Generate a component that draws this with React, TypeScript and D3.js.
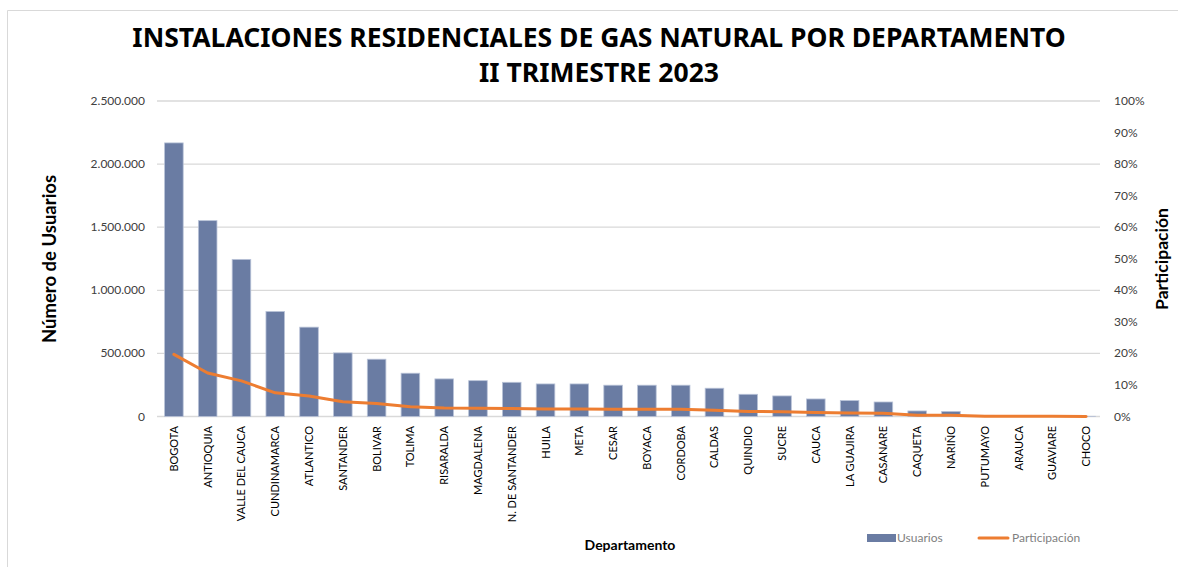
import React, { useRef, useEffect } from "react";
import * as d3 from "d3";

const departamentos = [
  "BOGOTA", "ANTIOQUIA", "VALLE DEL CAUCA", "CUNDINAMARCA", "ATLANTICO",
  "SANTANDER", "BOLIVAR", "TOLIMA", "RISARALDA", "MAGDALENA",
  "N. DE SANTANDER", "HUILA", "META", "CESAR", "BOYACA",
  "CORDOBA", "CALDAS", "QUINDIO", "SUCRE", "CAUCA",
  "LA GUAJIRA", "CASANARE", "CAQUETA", "NARIÑO", "PUTUMAYO",
  "ARAUCA", "GUAVIARE", "CHOCO",
];

const usuarios = [
  2168000, 1552000, 1245000, 832000, 708000,
  504000, 454000, 343000, 298000, 284000,
  271000, 258000, 258000, 248000, 248000,
  248000, 224000, 176000, 163000, 139000,
  126000, 115000, 44000, 40000, 9000,
  7000, 5000, 1500,
];

const participacion = [
  0.197, 0.138, 0.113, 0.075, 0.065,
  0.047, 0.041, 0.031, 0.027, 0.026,
  0.025, 0.024, 0.024, 0.023, 0.023,
  0.023, 0.020, 0.016, 0.015, 0.013,
  0.011, 0.010, 0.004, 0.004, 0.001,
  0.001, 0.001, 0.0,
];

const leftTicks = [0, 500000, 1000000, 1500000, 2000000, 2500000];
const rightTicks = [0, 0.1, 0.2, 0.3, 0.4, 0.5, 0.6, 0.7, 0.8, 0.9, 1];

const W = 1178;
const H = 567;
const labelFont = "Lato, 'Open Sans', sans-serif";

const App = () => {
  const ref = useRef<SVGSVGElement>(null);

  useEffect(() => {
    const svg = d3.select(ref.current);
    svg.selectAll("*").remove();

    const m = { left: 157, right: 1103, top: 101, bottom: 416.5 };

    const x = d3.scaleBand<string>()
      .domain(departamentos)
      .range([m.left, m.right])
      .paddingInner(0.45)
      .paddingOuter(0.225);
    const yL = d3.scaleLinear().domain([0, 2500000]).range([m.bottom, m.top]);
    const yR = d3.scaleLinear().domain([0, 1]).range([m.bottom, m.top]);

    svg.append("rect").attr("width", W).attr("height", H).attr("fill", "#fff");
    // chart frame
    svg.append("path")
      .attr("d", `M7.5,${H + 5} V10.5 H${W + 5}`)
      .attr("fill", "none")
      .attr("stroke", "#d9d9d9")
      .attr("stroke-width", 1);

    // title
    const title = svg.append("text")
      .attr("text-anchor", "middle")
      .attr("font-family", "'Noto Sans', 'Open Sans', sans-serif")
      .attr("font-weight", 700)
      .attr("font-size", 26.5)
      .attr("fill", "#000");
    title.append("tspan").attr("x", 599).attr("y", 47).text("INSTALACIONES RESIDENCIALES DE GAS NATURAL POR DEPARTAMENTO");
    title.append("tspan").attr("x", 599).attr("y", 82).text("II TRIMESTRE 2023");

    // gridlines
    svg.append("g")
      .selectAll("line")
      .data(leftTicks)
      .join("line")
      .attr("x1", m.left)
      .attr("x2", m.right - 3)
      .attr("y1", (d) => yL(d))
      .attr("y2", (d) => yL(d))
      .attr("stroke", "#d9d9d9")
      .attr("stroke-width", 1.3);

    // left axis labels
    const fmt = (v: number) => (v === 0 ? "0" : d3.format(",")(v).replace(/,/g, "."));
    svg.append("g")
      .selectAll("text")
      .data(leftTicks)
      .join("text")
      .attr("x", 145)
      .attr("y", (d) => yL(d) + 4)
      .attr("text-anchor", "end")
      .attr("font-family", labelFont)
      .attr("font-size", 12)
      .attr("fill", "#404040")
      .text(fmt);

    // right axis labels
    svg.append("g")
      .selectAll("text")
      .data(rightTicks)
      .join("text")
      .attr("x", 1114)
      .attr("y", (d) => yR(d) + 4)
      .attr("text-anchor", "start")
      .attr("font-family", labelFont)
      .attr("font-size", 12)
      .attr("fill", "#404040")
      .text((d) => `${Math.round(d * 100)}%`);

    // bars
    svg.append("g")
      .selectAll("rect")
      .data(usuarios)
      .join("rect")
      .attr("x", (_, i) => x(departamentos[i]) as number)
      .attr("width", x.bandwidth())
      .attr("y", (d) => yL(d))
      .attr("height", (d) => m.bottom - yL(d))
      .attr("fill", "#6a7ca3")
      .attr("stroke", "#b9c3d8")
      .attr("stroke-width", 0.8);

    // line
    const line = d3.line<number>()
      .x((_, i) => (x(departamentos[i]) as number) + x.bandwidth() / 2)
      .y((d) => yR(d));
    svg.append("path")
      .datum(participacion)
      .attr("d", line)
      .attr("fill", "none")
      .attr("stroke", "#ed7d31")
      .attr("stroke-width", 3)
      .attr("stroke-linejoin", "round")
      .attr("stroke-linecap", "round");

    // x labels
    svg.append("g")
      .selectAll("text")
      .data(departamentos)
      .join("text")
      .attr("transform", (d) => `translate(${(x(d) as number) + x.bandwidth() / 2 + 4},426) rotate(-90)`)
      .attr("text-anchor", "end")
      .attr("font-family", labelFont)
      .attr("font-size", 11)
      .attr("fill", "#000")
      .text((d) => d);

    // axis titles
    svg.append("text")
      .attr("x", 630)
      .attr("y", 550)
      .attr("text-anchor", "middle")
      .attr("font-family", labelFont)
      .attr("font-weight", 700)
      .attr("font-size", 14)
      .text("Departamento");
    svg.append("text")
      .attr("transform", `translate(56,259) rotate(-90)`)
      .attr("text-anchor", "middle")
      .attr("font-family", labelFont)
      .attr("font-weight", 700)
      .attr("font-size", 18.5)
      .text("Número de Usuarios");
    svg.append("text")
      .attr("transform", `translate(1168,259) rotate(-90)`)
      .attr("text-anchor", "middle")
      .attr("font-family", labelFont)
      .attr("font-weight", 700)
      .attr("font-size", 17.5)
      .text("Participación");

    // legend
    const lg = svg.append("g").attr("font-family", labelFont).attr("font-size", 12).attr("fill", "#7f7f7f");
    lg.append("rect").attr("x", 867).attr("y", 534).attr("width", 29).attr("height", 8).attr("fill", "#6a7ca3");
    lg.append("text").attr("x", 897).attr("y", 542).text("Usuarios");
    lg.append("line")
      .attr("x1", 979).attr("x2", 1008).attr("y1", 538).attr("y2", 538)
      .attr("stroke", "#ed7d31").attr("stroke-width", 3).attr("stroke-linecap", "round");
    lg.append("text").attr("x", 1012).attr("y", 542).text("Participación");
  }, []);

  return (
    <div style={{ position: "absolute", left: 0, top: 0 }}>
      <svg ref={ref} width={W} height={H} style={{ display: "block" }} />
    </div>
  );
};

export default App;
